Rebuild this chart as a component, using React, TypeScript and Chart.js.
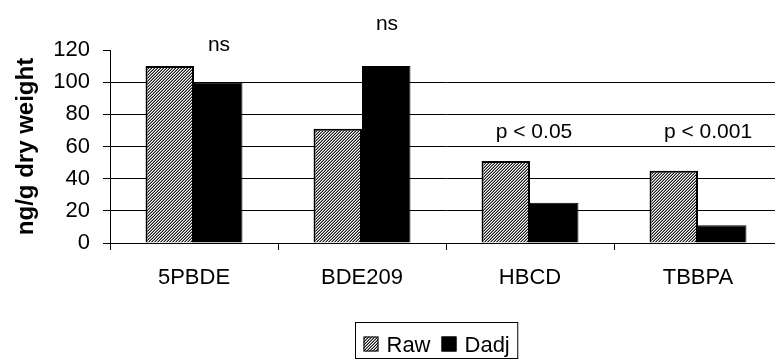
import React, { useEffect, useRef } from "react";
import { Chart, registerables } from "chart.js";

Chart.register(...registerables);

const categories = ["5PBDE", "BDE209", "HBCD", "TBBPA"];
const rawValues = [110, 71, 51, 45];
const dadjValues = [100, 110, 25, 11];
const seriesNames = ["Raw", "Dadj"];
const yTickMax = 120;
const yTickStep = 20;
const annotationTexts = ["ns", "ns", "p < 0.05", "p < 0.001"];
const annotationLevels = [119.5, 132.5, 65, 65];

// layout / style (not data)
const annotationOffsetsPx = [25, 25, 4, 10];
const FONT = "'Liberation Sans', Arial, sans-serif";
const FS = 22;

function makePattern(): CanvasPattern | string {
  const c = document.createElement("canvas");
  c.width = 3;
  c.height = 3;
  const g = c.getContext("2d");
  if (!g) return "#888";
  const cols = ["#1a1a1a", "#ffffff", "#8a8a8a"];
  for (let y = 0; y < 3; y++) {
    for (let x = 0; x < 3; x++) {
      g.fillStyle = cols[(x + y) % 3];
      g.fillRect(x, y, 1, 1);
    }
  }
  const p = g.createPattern(c, "repeat");
  return p || "#888";
}

export default function App() {
  const ref = useRef<HTMLCanvasElement | null>(null);

  useEffect(() => {
    const canvas = ref.current;
    if (!canvas) return;
    const pattern = makePattern();

    const overlay = {
      id: "overlay",
      afterDraw(chart: any) {
        const ctx = chart.ctx;
        const xs = chart.scales.x;
        const ys = chart.scales.y;
        ctx.save();
        ctx.fillStyle = "#000";
        ctx.font = `21px ${FONT}`;
        ctx.textAlign = "center";
        ctx.textBaseline = "alphabetic";
        annotationTexts.forEach((t, i) => {
          const x = xs.getPixelForValue(i) + annotationOffsetsPx[i];
          const y = ys.getPixelForValue(annotationLevels[i]);
          ctx.fillText(t, x, y);
        });

        // legend box
        const bx = 355.5, by = 322.5, bh = 36;
        ctx.font = `${FS}px ${FONT}`;
        ctx.textAlign = "left";
        const sw = 15;
        let x = bx + 8;
        const items = [
          { label: seriesNames[0], fill: pattern },
          { label: seriesNames[1], fill: "#000" },
        ];
        const positions: number[] = [];
        items.forEach((it) => {
          positions.push(x);
          x += sw + 8 + ctx.measureText(it.label).width + 11;
        });
        const bw = x - 11 + 8 - bx;
        ctx.strokeStyle = "#000";
        ctx.lineWidth = 1;
        ctx.strokeRect(bx, by, bw, bh);
        items.forEach((it, i) => {
          const px = positions[i];
          ctx.fillStyle = it.fill as any;
          ctx.fillRect(px, by + 14, sw, sw);
          ctx.strokeStyle = "#000";
          ctx.strokeRect(px + 0.5, by + 14.5, sw - 1, sw - 1);
          ctx.fillStyle = "#000";
          ctx.fillText(it.label, px + sw + 8, by + 29.5);
        });
        ctx.restore();
      },
    };

    const chart = new Chart(canvas, {
      type: "bar",
      data: {
        labels: categories,
        datasets: [
          {
            label: seriesNames[0],
            data: rawValues,
            backgroundColor: pattern as any,
            borderColor: "#000",
            borderWidth: 2,
            categoryPercentage: 0.577,
            barPercentage: 1,
          },
          {
            label: seriesNames[1],
            data: dadjValues,
            backgroundColor: "#000",
            borderColor: "#000",
            borderWidth: 1,
            categoryPercentage: 0.577,
            barPercentage: 1,
          },
        ],
      },
      options: {
        responsive: false,
        animation: false,
        layout: { padding: { top: 50, right: 18, left: 0, bottom: 0 } },
        plugins: {
          legend: { display: false },
          tooltip: { enabled: false },
        },
        scales: {
          x: {
            grid: {
              offset: true,
              drawOnChartArea: false,
              drawTicks: true,
              tickLength: 7,
              color: "#000",
            },
            border: { display: true, color: "#000", width: 1 },
            ticks: {
              color: "#000",
              font: { family: FONT, size: FS },
              padding: 15,
              maxRotation: 0,
            },
            afterFit(scale: any) {
              scale.height = 118;
            },
          },
          y: {
            min: 0,
            max: yTickMax,
            ticks: {
              stepSize: yTickStep,
              color: "#000",
              font: { family: FONT, size: FS },
              padding: 13,
            },
            grid: {
              color: (c: any) =>
                c.tick && c.tick.value === yTickMax ? "rgba(0,0,0,0)" : "#000",
              tickColor: "#000",
              tickLength: 7,
            },
            border: { display: true, color: "#000", width: 1 },
            title: {
              display: true,
              text: "ng/g dry weight",
              color: "#000",
              font: { family: FONT, size: 24, weight: "bold" },
              padding: { top: 12, bottom: 0 },
            },
            afterFit(scale: any) {
              scale.width = 110;
            },
          },
        },
      },
      plugins: [overlay],
    } as any);

    return () => chart.destroy();
  }, []);

  return (
    <div
      style={{
        position: "fixed",
        left: 0,
        top: 0,
        width: 775,
        height: 361,
        overflow: "hidden",
        background: "#fff",
      }}
    >
      <canvas ref={ref} width={800} height={361} style={{ display: "block" }} />
    </div>
  );
}
